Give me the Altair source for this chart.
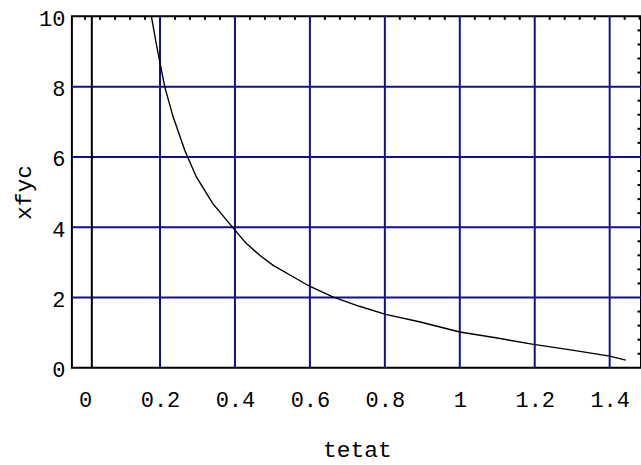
import altair as alt
import pandas as pd

# ---- data ----
tetat = [0.177, 0.190, 0.202, 0.213, 0.235, 0.266, 0.297, 0.341, 0.395, 0.430,
         0.466, 0.501, 0.555, 0.599, 0.661, 0.732, 0.802, 0.892, 1.000, 1.096,
         1.197, 1.300, 1.400, 1.443]
xfyc = [10.0, 9.22, 8.56, 7.98, 7.14, 6.19, 5.43, 4.67, 3.98, 3.54,
        3.20, 2.92, 2.59, 2.32, 2.02, 1.75, 1.52, 1.31, 1.02, 0.853,
        0.665, 0.503, 0.333, 0.219]

x_labels = [0, 0.2, 0.4, 0.6, 0.8, 1, 1.2, 1.4]
y_labels = [0, 2, 4, 6, 8, 10]
x_grid = [0.2, 0.4, 0.6, 0.8, 1.0, 1.2, 1.4]
y_grid = [2, 4, 6, 8]
origin_line = [0.018]
top_ticks = [0.0, 0.04, 0.08, 0.12, 0.16, 0.24, 0.28, 0.32, 0.36, 0.44, 0.48,
             0.52, 0.56, 0.64, 0.68, 0.72, 0.76, 0.84, 0.88, 0.92, 0.96, 1.04,
             1.08, 1.12, 1.16, 1.24, 1.28, 1.32, 1.36, 1.44, 1.48]
right_ticks = [0.4, 0.8, 1.2, 1.6, 2.4, 2.8, 3.2, 3.6, 4.4, 4.8, 5.2, 5.6,
               6.4, 6.8, 7.2, 7.6, 8.4, 8.8, 9.2, 9.6]

X_DOMAIN = [-0.0352, 1.4836]
Y_DOMAIN = [0, 10]

FONT = "Liberation Mono"
GRID = "#10108c"

W, H = 570, 352

xs = alt.Scale(domain=X_DOMAIN, nice=False, zero=False)
ys = alt.Scale(domain=Y_DOMAIN, nice=False, zero=False)

curve_df = pd.DataFrame({"tetat": tetat, "xfyc": xfyc})

x_axis = alt.Axis(values=x_labels, grid=False, ticks=False, tickSize=0, domain=False,
                  labelFont=FONT, labelFontSize=22, labelColor="black",
                  labelPadding=39, labelBaseline="alphabetic", labelFlush=False,
                  labelOverlap=False, labelExpr="'' + datum.value",
                  title="tetat", titleFont=FONT, titleFontSize=23,
                  titleFontWeight="normal", titleColor="black",
                  titleX=285.5, titleY=89, titleAlign="center",
                  titleBaseline="alphabetic")
y_axis = alt.Axis(values=y_labels, grid=False, ticks=False, tickSize=0, domain=False,
                  labelFont=FONT, labelFontSize=22, labelColor="black",
                  labelPadding=7, labelBaseline="alphabetic", labelOffset=9,
                  labelFlush=False, labelOverlap=False, labelAlign="right",
                  labelExpr="'' + datum.value",
                  title="xfyc", titleFont=FONT, titleFontSize=23,
                  titleFontWeight="normal", titleColor="black",
                  titleX=-48.5, titleY=176, titleAngle=270, titleAlign="center",
                  titleBaseline="middle")


def X(field):
    return alt.X(field, type="quantitative", scale=xs, axis=x_axis, title="tetat")


def Y(field):
    return alt.Y(field, type="quantitative", scale=ys, axis=y_axis, title="xfyc")


vgrid = alt.Chart(pd.DataFrame({"g": x_grid})).mark_rule(
    color=GRID, strokeWidth=2).encode(x=X("g"))
hgrid = alt.Chart(pd.DataFrame({"g": y_grid})).mark_rule(
    color=GRID, strokeWidth=2).encode(y=Y("g"))
origin = alt.Chart(pd.DataFrame({"o": origin_line})).mark_rule(
    color="black", strokeWidth=2).encode(x=X("o"))
tticks = alt.Chart(pd.DataFrame({"t": top_ticks})).mark_rule(
    color="black", strokeWidth=2).encode(
    x=X("t"), y=alt.value(0), y2=alt.value(3.5))
rticks = alt.Chart(pd.DataFrame({"t": right_ticks})).mark_rule(
    color="black", strokeWidth=2).encode(
    y=Y("t"), x=alt.value(W - 3.5), x2=alt.value(W))
curve = alt.Chart(curve_df).mark_line(color="black", strokeWidth=1.4, clip=True).encode(
    x=X("tetat"), y=Y("xfyc"))

chart = alt.layer(vgrid, hgrid, origin, tticks, rticks, curve).properties(
    width=W, height=H,
    autosize=alt.AutoSizeParams(type="none"),
    padding={"left": 72, "top": 16, "right": 0, "bottom": 97},
    background="white",
).configure_view(stroke="black", strokeWidth=2)

chart.save("out.html", embed_options={"renderer": "svg", "actions": False})
